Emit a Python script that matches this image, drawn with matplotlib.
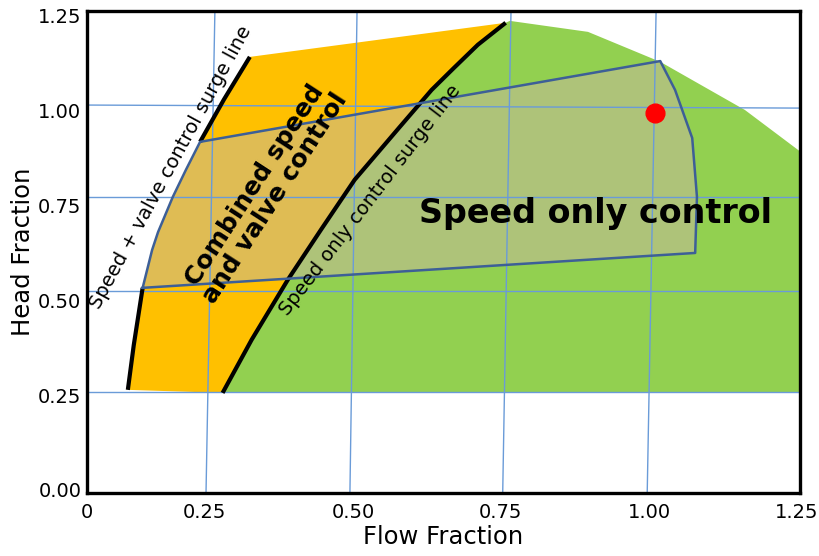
import matplotlib
matplotlib.use("Agg")
import matplotlib.pyplot as plt

# surge line for speed + valve control (bottom -> top)
valve_surge_x = [0.120, 0.130, 0.145, 0.161, 0.171, 0.196, 0.218, 0.242, 0.282, 0.326]
valve_surge_y = [0.264, 0.382, 0.533, 0.633, 0.680, 0.773, 0.844, 0.918, 1.029, 1.142]

# surge line for speed only control (bottom -> top)
speed_surge_x = [0.280, 0.329, 0.390, 0.446, 0.503, 0.579, 0.633, 0.670, 0.711, 0.758]
speed_surge_y = [0.256, 0.396, 0.554, 0.686, 0.818, 0.957, 1.055, 1.112, 1.174, 1.232]

# upper edge of the green (speed only) area
green_edge_x = [0.765, 0.897, 1.019, 1.162, 1.26]
green_edge_y = [1.237, 1.208, 1.129, 1.002, 0.887]
region_bottom = 0.258

# right hand envelope of the operating area
env_x = [1.019, 1.044, 1.073, 1.081, 1.078]
env_y = [1.131, 1.055, 0.928, 0.773, 0.625]

# duty point
duty_x = [1.010]
duty_y = [0.994]

# grid lines (slightly skewed in the original)
vgrid_bottom = [0.252, 0.495, 0.753, 0.997]
vgrid_top = [0.267, 0.507, 0.767, 1.012]
hgrid_left = [0.258, 0.525, 0.773, 1.015]
hgrid_right = [0.258, 0.525, 0.773, 1.007]

xticks = [0.051, 0.25, 0.50, 0.75, 1.00, 1.25]
xtick_labels = ["0", "0.25", "0.50", "0.75", "1.00", "1.25"]
yticks = [0.0, 0.25, 0.50, 0.75, 1.00, 1.25]
ytick_labels = ["0.00", "0.25", "0.50", "0.75", "1.00", "1.25"]

x0, x1 = 0.051, 1.255
y0, y1 = -0.008, 1.263

fig = plt.figure(figsize=(8.19, 5.56), dpi=100)
ax = fig.add_axes([0.1062, 0.1133, 0.8706, 0.8669])

# green area: right of speed only surge line
gx = speed_surge_x + green_edge_x + [green_edge_x[-1], speed_surge_x[0]]
gy = speed_surge_y + green_edge_y + [region_bottom, region_bottom]
ax.fill(gx, gy, color="#92D050", lw=0, zorder=1)

# orange area: between both surge lines
ox = valve_surge_x + speed_surge_x[::-1]
oy = valve_surge_y + speed_surge_y[::-1]
ax.fill(ox, oy, color="#FFC000", lw=0, zorder=1)

# translucent operating envelope (left side follows the valve surge line)
px = valve_surge_x[2:8] + env_x + [valve_surge_x[2]]
py = valve_surge_y[2:8] + env_y + [valve_surge_y[2]]
ax.fill(px, py, color="#C6BA9B", alpha=0.55, lw=0, zorder=2)

# grid
for xb, xt in zip(vgrid_bottom, vgrid_top):
    ax.plot([xb, xt], [y0, y1], color="#6A9BD8", lw=1.0, zorder=3)
for yl, yr in zip(hgrid_left, hgrid_right):
    ax.plot([x0, x1], [yl, yr], color="#6A9BD8", lw=1.0, zorder=3)

# surge lines
ax.plot(valve_surge_x[:3], valve_surge_y[:3], color="black", lw=3, zorder=4, solid_capstyle="butt")
ax.plot(valve_surge_x[7:], valve_surge_y[7:], color="black", lw=3, zorder=4, solid_capstyle="butt")
ax.plot(speed_surge_x, speed_surge_y, color="black", lw=3, zorder=4, solid_capstyle="butt")

# envelope outline
ax.plot(px, py, color="#3D5F97", lw=1.8, zorder=4)

ax.plot(duty_x, duty_y, "o", color="red", ms=13.5, zorder=5)

ax.text(0.193, 0.850, "Speed + valve control surge line", rotation=61.5,
        ha="center", va="center", fontsize=14, rotation_mode="anchor", zorder=6)
ax.text(0.529, 0.765, "Speed only control surge line", rotation=52.5,
        ha="center", va="center", fontsize=14, rotation_mode="anchor", zorder=6)
ax.text(0.351, 0.786, "Combined speed\nand valve control", rotation=57,
        ha="center", va="center", fontsize=18, fontweight="bold",
        linespacing=1.0, rotation_mode="anchor", zorder=6)
ax.text(0.910, 0.730, "Speed only control", ha="center", va="center",
        fontsize=24, fontweight="bold", zorder=6)

ax.set_xlim(x0, x1)
ax.set_ylim(y0, y1)
ax.set_xticks(xticks, xtick_labels)
ax.set_yticks(yticks, ytick_labels)
ax.tick_params(length=0, labelsize=14)
ax.tick_params(axis="x", pad=7)
ax.tick_params(axis="y", pad=4)
for s in ax.spines.values():
    s.set_linewidth(2.4)
    s.set_color("black")
    s.set_zorder(7)

ax.set_xlabel("Flow Fraction", fontsize=17.5, labelpad=2)
ax.set_ylabel("Head Fraction", fontsize=17.5, labelpad=2)

fig.savefig("out.png", dpi=100)
